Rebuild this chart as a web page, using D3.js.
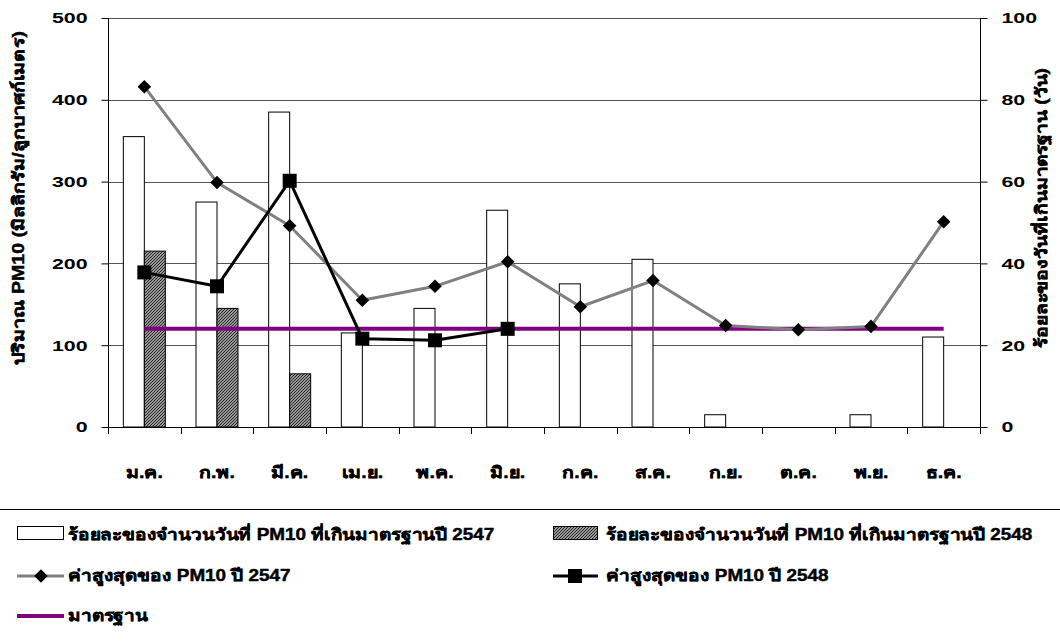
<!DOCTYPE html>
<html>
<head>
<meta charset="utf-8">
<script src="https://cdn.jsdelivr.net/npm/d3@7/dist/d3.min.js"></script>
<style>
  html, body { margin: 0; padding: 0; background: #fff; }
  svg text { font-family: "Liberation Sans", Arial, "Noto Sans", sans-serif; font-weight: bold; fill: #000; }
  svg text.thai { stroke: #000; stroke-width: 0.45px; }
</style>
</head>
<body>
<svg id="chart" width="1060" height="644"></svg>
<script>
// Months (Thai abbreviations)
const months = ["ม.ค.", "ก.พ.", "มี.ค.", "เม.ย.", "พ.ค.", "มิ.ย.", "ก.ค.", "ส.ค.", "ก.ย.", "ต.ค.", "พ.ย.", "ธ.ค."];
// Percentage of days exceeding standard (right axis)
const pct2547 = [71, 55, 77, 23, 29, 53, 35, 41, 3, 0, 3, 22];
const pct2548 = [43, 29, 13, null, null, null, null, null, null, null, null, null];
// Maximum PM10 (left axis)
const max2547 = [416, 299, 246, 155, 172, 202, 147, 179, 124, 119, 123, 251];
const max2548 = [189, 172, 301, 108, 106, 120, null, null, null, null, null, null];
// Standard
const standard = [120, 120, 120, 120, 120, 120, 120, 120, 120, 120, 120, 120];
const leftTicks = [0, 100, 200, 300, 400, 500];
const rightTicks = [0, 20, 40, 60, 80, 100];

const labels = {
  left: "ปริมาณ PM10 (มิลลิกรัม/ลูกบาศก์เมตร)",
  right: "ร้อยละของวันที่เกินมาตรฐาน (วัน)",
  bar2547: "ร้อยละของจำนวนวันที่ PM10 ที่เกินมาตรฐานปี 2547",
  bar2548: "ร้อยละของจำนวนวันที่ PM10 ที่เกินมาตรฐานปี 2548",
  max2547: "ค่าสูงสุดของ PM10 ปี 2547",
  max2548: "ค่าสูงสุดของ PM10 ปี 2548",
  std: "มาตรฐาน"
};

const svg = d3.select("#chart");
const m = { left: 108, right: 980, top: 18, bottom: 427 };

const x = d3.scaleBand().domain(months).range([m.left, m.right]).paddingInner(0).paddingOuter(0);
const xInner = d3.scaleBand().domain(["a", "b"]).range([0, x.bandwidth()]).paddingInner(0).paddingOuter(0.73);
const yL = d3.scaleLinear().domain([0, 500]).range([m.bottom, m.top]);
const yR = d3.scaleLinear().domain([0, 100]).range([m.bottom, m.top]);

// widen glyphs along the text direction (the chart uses a broad bold face)
function widen(sel, s) {
  sel.each(function () {
    const t = d3.select(this);
    const tx = +t.attr("x") || 0, ty = +t.attr("y") || 0;
    const base = t.attr("transform") || "";
    t.attr("transform", `${base} translate(${tx},${ty}) scale(${s},1)`).attr("x", 0).attr("y", 0);
  });
}

// hatch pattern
const defs = svg.append("defs");
const pat = defs.append("pattern").attr("id", "hatch").attr("patternUnits", "userSpaceOnUse")
  .attr("width", 3).attr("height", 3);
pat.append("rect").attr("width", 3).attr("height", 3).attr("fill", "#9a9a9a");
pat.append("path").attr("d", "M-1,1 l2,-2 M0,3 l3,-3 M2,4 l2,-2").attr("stroke", "#222").attr("stroke-width", 1);

// gridlines
svg.append("g").selectAll("line").data(leftTicks.slice(1)).join("line")
  .attr("x1", m.left).attr("x2", m.right)
  .attr("y1", d => Math.round(yL(d)) + 0.5).attr("y2", d => Math.round(yL(d)) + 0.5)
  .attr("stroke", "#555").attr("stroke-width", 1);

// bars
const bars = svg.append("g");
months.forEach((mo, i) => {
  if (pct2547[i] !== null && pct2547[i] > 0) {
    bars.append("rect")
      .attr("x", x(mo) + xInner("a")).attr("width", xInner.bandwidth())
      .attr("y", yR(pct2547[i])).attr("height", yR(0) - yR(pct2547[i]))
      .attr("fill", "#fff").attr("stroke", "#000").attr("stroke-width", 1);
  }
  if (pct2548[i] !== null && pct2548[i] > 0) {
    bars.append("rect")
      .attr("x", x(mo) + xInner("b")).attr("width", xInner.bandwidth())
      .attr("y", yR(pct2548[i])).attr("height", yR(0) - yR(pct2548[i]))
      .attr("fill", "url(#hatch)").attr("stroke", "#000").attr("stroke-width", 1);
  }
});

// axes
const axL = d3.axisLeft(yL).tickValues(leftTicks).tickSize(7).tickPadding(14);
const gL = svg.append("g").attr("transform", `translate(${m.left + 0.5},0)`).call(axL);
const axR = d3.axisRight(yR).tickValues(rightTicks).tickSize(7).tickPadding(14);
const gR = svg.append("g").attr("transform", `translate(${m.right + 0.5},0)`).call(axR);
const axX = d3.axisBottom(x).tickSize(0).tickPadding(39);
const gX = svg.append("g").attr("transform", `translate(0,${m.bottom + 0.5})`).call(axX);
// category boundary ticks
svg.append("g").selectAll("line").data(months.concat(["end"])).join("line")
  .attr("x1", (d, i) => Math.round(i < months.length ? x(d) : m.right) + 0.5)
  .attr("x2", (d, i) => Math.round(i < months.length ? x(d) : m.right) + 0.5)
  .attr("y1", m.bottom).attr("y2", m.bottom + 7)
  .attr("stroke", "#000");

[gL, gR, gX].forEach(g => {
  g.select(".domain").attr("stroke", "#000").attr("stroke-width", 1);
  g.selectAll(".tick line").attr("stroke", "#000");
  g.selectAll("text").style("font-size", "15px").style("font-family", null);
});
gX.selectAll("text").classed("thai", true).style("font-size", "16px");
gX.select(".domain").attr("d", `M${m.left},0H${m.right}`);
gL.select(".domain").attr("d", `M0,${m.top}V${m.bottom}`);
gR.select(".domain").attr("d", `M0,${m.top}V${m.bottom}`);
widen(gL.selectAll("text"), 1.42);
widen(gR.selectAll("text"), 1.42);
widen(gX.selectAll("text"), 1.22);

// lines
const lineGenIdx = (arr) => d3.line()
  .x(d => x(months[d]) + x.bandwidth() / 2).y(d => yL(arr[d]))(arr.map((v, i) => i).filter(i => arr[i] !== null));

svg.append("path").attr("d", lineGenIdx(standard)).attr("fill", "none")
  .attr("stroke", "#800080").attr("stroke-width", 4);
svg.append("path").attr("d", lineGenIdx(max2547)).attr("fill", "none")
  .attr("stroke", "#808080").attr("stroke-width", 3).attr("stroke-linejoin", "round");
svg.append("path").attr("d", lineGenIdx(max2548)).attr("fill", "none")
  .attr("stroke", "#000").attr("stroke-width", 3).attr("stroke-linejoin", "round");

const diamond = d3.symbol().type(d3.symbolSquare).size(92);
svg.append("g").selectAll("path").data(months.map((mo, i) => i).filter(i => max2547[i] !== null)).join("path")
  .attr("d", diamond)
  .attr("transform", i => `translate(${x(months[i]) + x.bandwidth() / 2},${yL(max2547[i])}) rotate(45)`)
  .attr("fill", "#000");
svg.append("g").selectAll("rect").data(months.map((mo, i) => i).filter(i => max2548[i] !== null)).join("rect")
  .attr("x", i => x(months[i]) + x.bandwidth() / 2 - 7)
  .attr("y", i => yL(max2548[i]) - 7)
  .attr("width", 14).attr("height", 14).attr("fill", "#000");

// axis titles
const tL = svg.append("text").attr("class", "thai").attr("transform", `translate(24,198) rotate(-90)`)
  .attr("text-anchor", "middle").style("font-size", "16px").text(labels.left);
const tR = svg.append("text").attr("class", "thai").attr("transform", `translate(1047,208) rotate(-90)`)
  .attr("text-anchor", "middle").style("font-size", "16px").text(labels.right);
widen(tL, 1.22);
widen(tR, 1.2);

// legend
svg.append("line").attr("x1", 0).attr("x2", 1060).attr("y1", 509.5).attr("y2", 509.5)
  .attr("stroke", "#000").attr("stroke-width", 1);
const leg = svg.append("g");
const row = [535, 576, 616];
const col = [17, 553];
// bar 2547
leg.append("rect").attr("x", col[0] + 0.5).attr("y", row[0] - 8.5).attr("width", 46).attr("height", 13)
  .attr("fill", "#fff").attr("stroke", "#000");
// bar 2548
leg.append("rect").attr("x", col[1] + 0.5).attr("y", row[0] - 8.5).attr("width", 44).attr("height", 13)
  .attr("fill", "url(#hatch)").attr("stroke", "#000");
// max 2547
leg.append("line").attr("x1", col[0]).attr("x2", col[0] + 47).attr("y1", row[1]).attr("y2", row[1])
  .attr("stroke", "#808080").attr("stroke-width", 3);
leg.append("path").attr("d", diamond).attr("transform", `translate(${col[0] + 24},${row[1]}) rotate(45)`).attr("fill", "#000");
// max 2548
leg.append("line").attr("x1", col[1]).attr("x2", col[1] + 45).attr("y1", row[1]).attr("y2", row[1])
  .attr("stroke", "#000").attr("stroke-width", 3);
leg.append("rect").attr("x", col[1] + 22 - 7).attr("y", row[1] - 7).attr("width", 14).attr("height", 14).attr("fill", "#000");
// standard
leg.append("line").attr("x1", col[0]).attr("x2", col[0] + 47).attr("y1", row[2]).attr("y2", row[2])
  .attr("stroke", "#800080").attr("stroke-width", 4);

const legText = [
  [col[0] + 51, row[0] + 5, labels.bar2547],
  [col[1] + 53, row[0] + 5, labels.bar2548],
  [col[0] + 51, row[1] + 5, labels.max2547],
  [col[1] + 53, row[1] + 5, labels.max2548],
  [col[0] + 51, row[2] + 5, labels.std]
];
const lt = leg.selectAll("text").data(legText).join("text").attr("class", "thai")
  .attr("x", d => d[0]).attr("y", d => d[1])
  .style("font-size", "16px").text(d => d[2]);
widen(lt, 1.18);
</script>
</body>
</html>
